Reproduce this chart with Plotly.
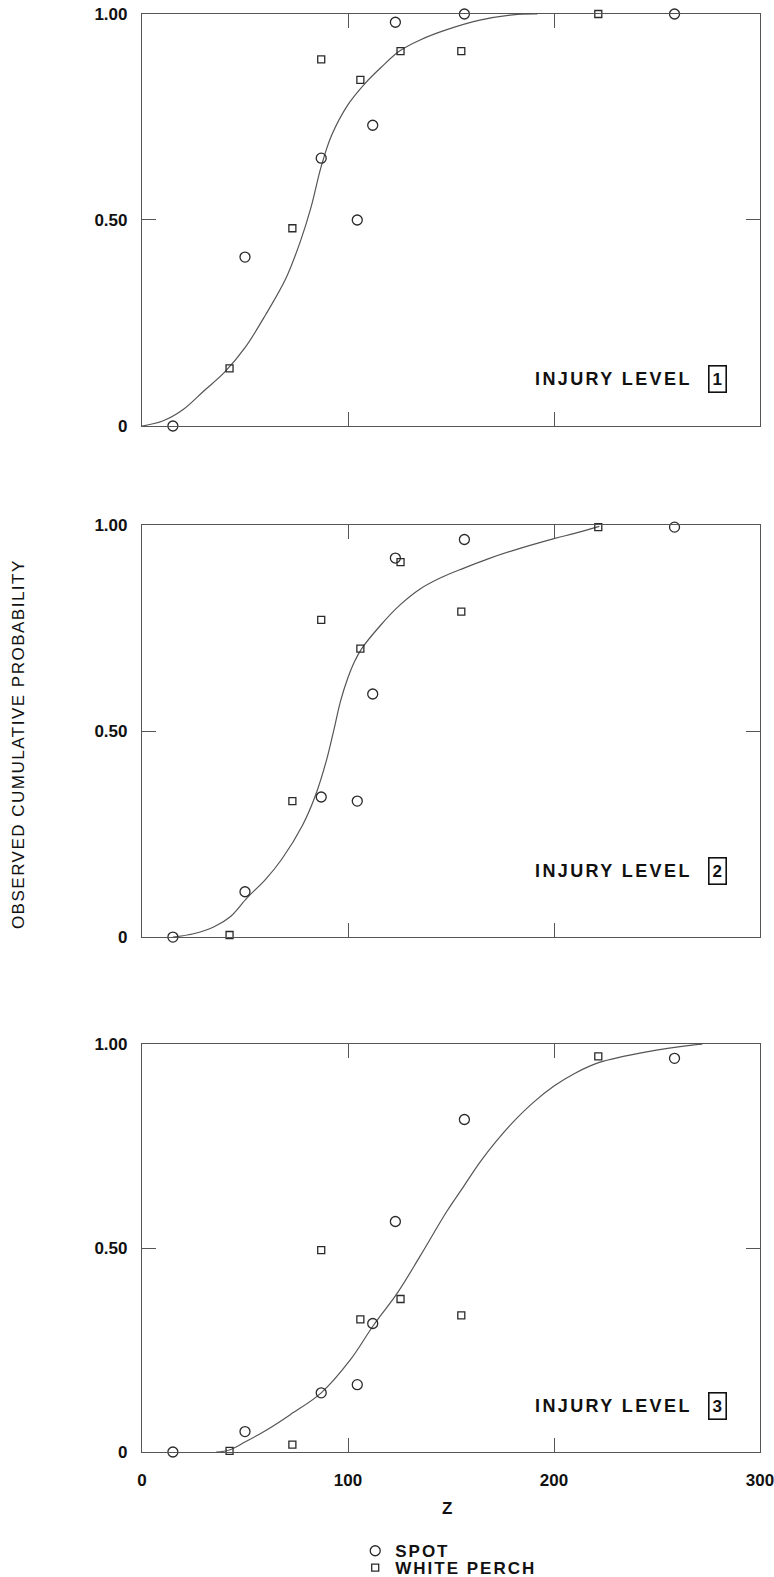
import plotly.graph_objects as go

# ---- data ----
spot_z = [15, 50, 87, 104.5, 112, 123, 156.5, 258.5]
perch_z = [42.5, 73, 87, 106, 125.5, 155, 221.5]

spot_p1 = [0.0, 0.41, 0.65, 0.50, 0.73, 0.98, 1.0, 1.0]
perch_p1 = [0.14, 0.48, 0.89, 0.84, 0.91, 0.91, 1.0]
spot_p2 = [0.0, 0.11, 0.34, 0.33, 0.59, 0.92, 0.965, 0.995]
perch_p2 = [0.005, 0.33, 0.77, 0.70, 0.91, 0.79, 0.995]
spot_p3 = [0.0, 0.05, 0.145, 0.165, 0.315, 0.565, 0.815, 0.965]
perch_p3 = [0.003, 0.018, 0.495, 0.325, 0.375, 0.335, 0.97]

fit_z1 = [0, 10, 20, 30, 40, 50, 60, 70, 77, 82, 87, 92, 100, 108, 116, 125, 135, 148, 164, 180, 192]
fit_p1 = [0, 0.012, 0.04, 0.085, 0.13, 0.19, 0.27, 0.36, 0.45, 0.53, 0.63, 0.705, 0.78, 0.83, 0.87, 0.91, 0.937, 0.962, 0.985, 0.998, 1.0]

fit_z2 = [15, 25, 35, 43, 51, 60, 68, 78, 84, 89.6, 93, 96.5, 100, 103, 106.5, 115.5, 125, 135, 145, 156, 168, 180, 200, 210, 222]
fit_p2 = [0, 0.008, 0.025, 0.05, 0.095, 0.14, 0.19, 0.272, 0.341, 0.43, 0.50, 0.575, 0.63, 0.667, 0.699, 0.755, 0.805, 0.845, 0.872, 0.895, 0.918, 0.938, 0.967, 0.98, 0.997]

fit_z3 = [36, 42.4, 50.2, 60.5, 71.8, 87, 101, 112.3, 124, 135, 148, 156, 164, 172, 180, 190, 200, 210, 222, 245, 268, 272]
fit_p3 = [0, 0.005, 0.025, 0.054, 0.091, 0.145, 0.225, 0.31, 0.39, 0.48, 0.59, 0.65, 0.71, 0.762, 0.808, 0.857, 0.897, 0.928, 0.955, 0.981, 0.998, 1.0]

x_ticks = [0, 100, 200, 300]
y_ticks = [0, 0.5, 1.0]
y_ticktext = ["0", "0.50", "1.00"]
series_names = ["SPOT", "WHITE PERCH"]
level_labels = ["1", "2", "3"]

INK = "#2a2a2a"
FONT = "Liberation Sans"


def spaced(t, px):
    return '<span style="letter-spacing:%spx">%s</span>' % (px, t)


fig = go.Figure()

panels = [
    (spot_p1, perch_p1, fit_z1, fit_p1, "x", "y"),
    (spot_p2, perch_p2, fit_z2, fit_p2, "x2", "y2"),
    (spot_p3, perch_p3, fit_z3, fit_p3, "x3", "y3"),
]

for i, (sp, pp, fz, fp, xa, ya) in enumerate(panels):
    fig.add_trace(go.Scatter(
        x=fz, y=fp, mode="lines", line=dict(color="#555555", width=1.2, shape="spline", smoothing=1.0),
        xaxis=xa, yaxis=ya, showlegend=False, hoverinfo="skip", cliponaxis=False))
    fig.add_trace(go.Scatter(
        x=spot_z, y=sp, mode="markers", name=spaced(series_names[0], 2), legendgroup="spot",
        legend="legend", showlegend=(i == 0), cliponaxis=False,
        marker=dict(symbol="circle-open", size=10, color=INK, line=dict(width=1.3, color=INK)),
        xaxis=xa, yaxis=ya))
    fig.add_trace(go.Scatter(
        x=perch_z, y=pp, mode="markers", name=spaced(series_names[1], 2), legendgroup="perch",
        legend="legend2", showlegend=(i == 0), cliponaxis=False,
        marker=dict(symbol="square-open", size=7, color=INK, line=dict(width=1.3, color=INK)),
        xaxis=xa, yaxis=ya))

axis_common = dict(
    range=[0, 300], showline=True, linecolor="#555555", linewidth=1.2, mirror="allticks",
    ticks="inside", ticklen=14, tickwidth=1, tickcolor="#555555", showgrid=False, zeroline=False,
    tickvals=x_ticks, ticklabeloverflow="allow",
    tickfont=dict(family=FONT, size=17, color="#111111", weight="bold"),
)
yaxis_common = dict(
    range=[0, 1], showline=True, linecolor="#555555", linewidth=1.2, mirror="allticks",
    ticks="inside", ticklen=14, tickwidth=1, tickcolor="#555555", showgrid=False, zeroline=False,
    tickvals=y_ticks, ticktext=y_ticktext, ticklabelstandoff=10,
    tickfont=dict(family=FONT, size=17, color="#111111", weight="bold"),
)

legend_common = dict(xanchor="left", yanchor="middle", bgcolor="rgba(0,0,0,0)",
                     font=dict(family=FONT, size=17, color="#111111", weight="bold"),
                     itemwidth=30, tracegroupgap=0)

fig.update_layout(
    width=774, height=1577,
    margin=dict(l=142, r=14, t=14, b=125, autoexpand=False),
    paper_bgcolor="white", plot_bgcolor="white",
    font=dict(family=FONT, color="#111111"),
    xaxis=dict(axis_common, anchor="y", domain=[0, 1], showticklabels=False),
    yaxis=dict(yaxis_common, anchor="x", domain=[0.7135, 1.0]),
    xaxis2=dict(axis_common, anchor="y2", domain=[0, 1], showticklabels=False),
    yaxis2=dict(yaxis_common, anchor="x2", domain=[0.3581, 0.6446]),
    xaxis3=dict(axis_common, anchor="y3", domain=[0, 1], showticklabels=True, ticklabelstandoff=12),
    yaxis3=dict(yaxis_common, anchor="x3", domain=[0, 0.2837]),
    showlegend=True,
    legend=dict(legend_common, x=0.345, y=-0.0690),
    legend2=dict(legend_common, x=0.345, y=-0.0807),
)

annots = []
label_y = [0.115, 0.16, 0.113]
for i, (xr, yr) in enumerate([("x", "y"), ("x2", "y2"), ("x3", "y3")]):
    annots.append(dict(x=268, y=label_y[i], xref=xr, yref=yr, text=spaced("INJURY LEVEL", 2.4),
                       showarrow=False, xanchor="right", yanchor="middle",
                       font=dict(family=FONT, size=18, color="#111111", weight="bold")))
    annots.append(dict(x=279.5, y=label_y[i], xref=xr, yref=yr, text=level_labels[i],
                       showarrow=False, xanchor="center", yanchor="middle",
                       bordercolor="#111111", borderwidth=1.6, borderpad=3,
                       font=dict(family=FONT, size=17, color="#111111", weight="bold")))

annots.append(dict(x=-0.2006, y=0.4923, xref="paper", yref="paper",
                   text=spaced("OBSERVED CUMULATIVE PROBABILITY", 1.5), textangle=-90, showarrow=False,
                   xanchor="center", yanchor="middle",
                   font=dict(family=FONT, size=17, color="#111111")))
annots.append(dict(x=0.4935, y=-0.0395, xref="paper", yref="paper", text="Z",
                   showarrow=False, xanchor="center", yanchor="middle",
                   font=dict(family=FONT, size=17, color="#111111", weight="bold")))
fig.update_layout(annotations=annots)

fig.write_html("out.html")
